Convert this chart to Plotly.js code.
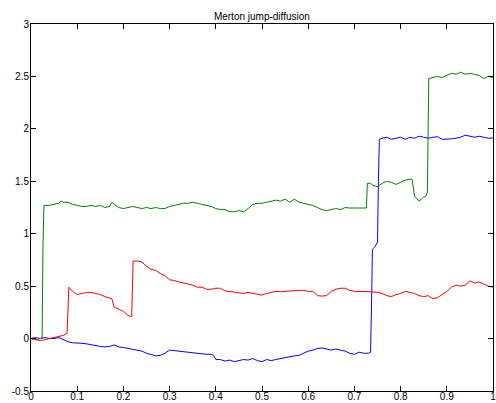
<!DOCTYPE html>
<html>
<head>
<meta charset="utf-8">
<script src="https://cdn.plot.ly/plotly-3.0.1.min.js"></script>
<style>html,body{margin:0;padding:0;background:#fff;}#chart{width:496px;height:403px;}</style>
</head>
<body>
<div id="chart"></div>
<script>
var blueX = [0,0.01,0.02,0.03,0.04,0.05,0.06,0.07,0.08,0.09,0.10,0.11,0.12,0.13,0.14,0.15,0.16,0.17,0.18,0.19,0.20,0.21,0.22,0.23,0.24,0.25,0.26,0.27,0.28,0.29,0.30,0.31,0.32,0.33,0.34,0.35,0.36,0.37,0.38,0.39,0.395,0.40,0.41,0.42,0.43,0.44,0.45,0.46,0.47,0.48,0.49,0.50,0.51,0.52,0.53,0.54,0.55,0.56,0.57,0.58,0.59,0.60,0.61,0.62,0.63,0.64,0.65,0.66,0.67,0.68,0.69,0.70,0.71,0.72,0.73,0.735,0.737,0.739,0.745,0.750,0.752,0.754,0.76,0.77,0.78,0.79,0.80,0.81,0.82,0.83,0.84,0.85,0.86,0.87,0.88,0.89,0.90,0.91,0.92,0.93,0.94,0.95,0.96,0.97,0.98,0.99,1.0];
var blueY = [0,0.01,0.0,0.01,0.0,0.0,0.01,-0.01,-0.03,-0.04,-0.04,-0.045,-0.05,-0.06,-0.07,-0.075,-0.08,-0.075,-0.06,-0.08,-0.085,-0.095,-0.1,-0.11,-0.12,-0.14,-0.155,-0.165,-0.16,-0.14,-0.11,-0.115,-0.12,-0.13,-0.135,-0.135,-0.14,-0.145,-0.15,-0.15,-0.16,-0.2,-0.2,-0.215,-0.205,-0.22,-0.21,-0.2,-0.205,-0.19,-0.21,-0.22,-0.2,-0.21,-0.2,-0.19,-0.18,-0.17,-0.165,-0.16,-0.14,-0.12,-0.11,-0.095,-0.09,-0.1,-0.11,-0.1,-0.11,-0.12,-0.14,-0.15,-0.13,-0.14,-0.14,-0.13,0.3,0.85,0.88,0.92,1.5,1.9,1.91,1.92,1.9,1.91,1.92,1.9,1.92,1.91,1.93,1.92,1.91,1.92,1.925,1.9,1.9,1.905,1.91,1.92,1.94,1.93,1.92,1.93,1.92,1.91,1.915];

var greenX = [0,0.01,0.02,0.024,0.026,0.028,0.04,0.05,0.06,0.065,0.07,0.08,0.09,0.10,0.11,0.12,0.13,0.14,0.15,0.16,0.17,0.175,0.18,0.19,0.20,0.21,0.22,0.23,0.24,0.25,0.26,0.27,0.28,0.29,0.30,0.31,0.32,0.33,0.34,0.35,0.36,0.37,0.38,0.39,0.40,0.41,0.42,0.43,0.44,0.45,0.46,0.47,0.48,0.49,0.50,0.51,0.52,0.53,0.54,0.55,0.56,0.57,0.58,0.59,0.60,0.61,0.62,0.63,0.64,0.65,0.66,0.67,0.68,0.69,0.70,0.72,0.726,0.728,0.735,0.74,0.75,0.76,0.77,0.78,0.79,0.80,0.81,0.82,0.825,0.83,0.84,0.845,0.85,0.855,0.858,0.861,0.87,0.88,0.89,0.90,0.91,0.92,0.93,0.94,0.95,0.96,0.97,0.98,0.99,1.0];
var greenY = [0,-0.01,0,0.01,0.9,1.27,1.27,1.28,1.29,1.31,1.3,1.3,1.28,1.27,1.26,1.26,1.27,1.26,1.27,1.25,1.26,1.3,1.28,1.25,1.24,1.25,1.26,1.25,1.24,1.25,1.24,1.25,1.24,1.24,1.26,1.27,1.28,1.29,1.29,1.3,1.29,1.28,1.27,1.26,1.24,1.23,1.23,1.21,1.21,1.22,1.21,1.24,1.28,1.29,1.29,1.3,1.31,1.32,1.31,1.33,1.3,1.33,1.3,1.29,1.28,1.27,1.25,1.23,1.22,1.23,1.24,1.23,1.25,1.245,1.245,1.245,1.245,1.48,1.48,1.46,1.45,1.48,1.5,1.49,1.47,1.49,1.51,1.52,1.52,1.36,1.31,1.33,1.35,1.36,1.4,2.48,2.49,2.5,2.49,2.51,2.53,2.52,2.54,2.52,2.53,2.52,2.51,2.48,2.5,2.49];

var redX = [0,0.01,0.02,0.03,0.04,0.05,0.06,0.07,0.078,0.080,0.082,0.09,0.10,0.11,0.12,0.13,0.14,0.15,0.16,0.17,0.175,0.18,0.19,0.20,0.21,0.218,0.221,0.23,0.24,0.25,0.26,0.27,0.28,0.29,0.30,0.31,0.32,0.33,0.34,0.35,0.36,0.37,0.38,0.39,0.40,0.41,0.42,0.43,0.44,0.45,0.46,0.47,0.48,0.49,0.50,0.51,0.52,0.53,0.54,0.55,0.56,0.57,0.58,0.59,0.60,0.61,0.62,0.63,0.64,0.65,0.66,0.67,0.68,0.69,0.70,0.71,0.72,0.73,0.74,0.75,0.76,0.77,0.78,0.79,0.80,0.81,0.82,0.83,0.84,0.85,0.86,0.87,0.88,0.89,0.90,0.91,0.92,0.93,0.94,0.95,0.96,0.97,0.98,0.99,1.0];
var redY = [0,-0.01,-0.02,-0.01,0,0.01,0.02,0.03,0.05,0.3,0.49,0.45,0.42,0.43,0.44,0.44,0.43,0.42,0.4,0.39,0.38,0.3,0.28,0.26,0.22,0.21,0.74,0.74,0.73,0.69,0.66,0.65,0.62,0.6,0.56,0.555,0.54,0.53,0.525,0.51,0.49,0.49,0.47,0.47,0.48,0.48,0.455,0.45,0.447,0.44,0.43,0.44,0.43,0.42,0.415,0.43,0.44,0.45,0.447,0.45,0.46,0.46,0.46,0.46,0.45,0.45,0.41,0.405,0.41,0.45,0.47,0.48,0.48,0.46,0.45,0.45,0.45,0.45,0.445,0.44,0.43,0.41,0.4,0.42,0.43,0.45,0.44,0.43,0.41,0.4,0.41,0.38,0.39,0.42,0.45,0.49,0.51,0.5,0.51,0.55,0.53,0.54,0.52,0.5,0.49];

var xTickVals = [0,0.1,0.2,0.3,0.4,0.5,0.6,0.7,0.8,0.9,1];
var xTickText = ['0','0.1','0.2','0.3','0.4','0.5','0.6','0.7','0.8','0.9','1'];
var yTickVals = [-0.5,0,0.5,1,1.5,2,2.5,3];
var yTickText = ['-0.5','0','0.5','1','1.5','2','2.5','3'];

var traces = [
  {x: blueX, y: blueY, type: 'scatter', mode: 'lines', line: {color: '#0000ff', width: 1}},
  {x: greenX, y: greenY, type: 'scatter', mode: 'lines', line: {color: '#008000', width: 1}},
  {x: redX, y: redY, type: 'scatter', mode: 'lines', line: {color: '#ff0000', width: 1}}
];

var axisCommon = {
  showline: true, linecolor: '#000', linewidth: 1, mirror: 'allticks',
  ticks: 'inside', ticklen: 5, tickcolor: '#000', tickwidth: 1,
  showgrid: false, zeroline: false, ticklabeloverflow: 'allow',
  tickfont: {family: 'Liberation Sans, Arial, sans-serif', size: 10, color: '#000'}
};

var layout = {
  width: 496, height: 403,
  margin: {l: 31, r: 3, t: 24, b: 12},
  paper_bgcolor: '#fff', plot_bgcolor: '#fff',
  showlegend: false,
  title: {text: 'Merton jump-diffusion', font: {family: 'Liberation Sans, Arial, sans-serif', size: 10, color: '#000'}, x: 0.528, xanchor: 'center', y: 0.96, yanchor: 'middle'},
  xaxis: Object.assign({}, axisCommon, {range: [0, 1], tickmode: 'array', tickvals: xTickVals, ticktext: xTickText, ticklabelstandoff: -4}),
  yaxis: Object.assign({}, axisCommon, {range: [-0.5, 3], tickmode: 'array', tickvals: yTickVals, ticktext: yTickText, ticklabelstandoff: -1})
};

Plotly.newPlot('chart', traces, layout, {staticPlot: true, displayModeBar: false});
</script>
</body>
</html>
